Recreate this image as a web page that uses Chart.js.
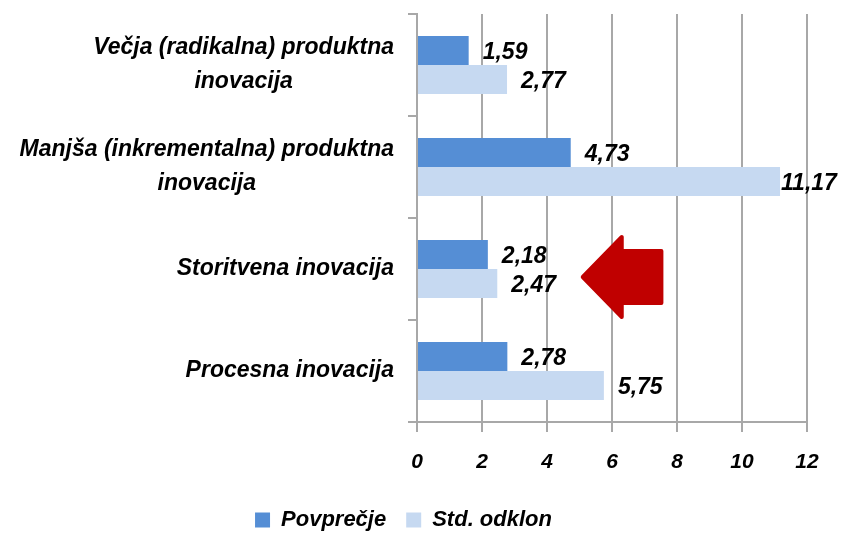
<!DOCTYPE html>
<html>
<head>
<meta charset="utf-8">
<script src="https://cdn.jsdelivr.net/npm/chart.js@4"></script>
<style>
  html, body { margin: 0; padding: 0; background: #fff; }
  #wrap { width: 841px; height: 533px; }
</style>
</head>
<body>
<div id="wrap"><canvas id="chart" width="841" height="533"></canvas></div>
<script>
'use strict';

// ===== データ =====
const categories = [
    ['Večja (radikalna) produktna', 'inovacija'],
    ['Manjša (inkrementalna) produktna', 'inovacija'],
    ['Storitvena inovacija'],
    ['Procesna inovacija'],
];
const povprecje = [1.59, 4.73, 2.18, 2.78];
const stdOdklon = [2.77, 11.17, 2.47, 5.75];
const xTicks    = [0, 2, 4, 6, 8, 10, 12];
const seriesNames = ['Povprečje', 'Std. odklon'];

const FONT_FAMILY = '"Liberation Sans", Arial, sans-serif';
const GRID_COLOR  = '#a8a8a8';
const DARK  = '#558ed5';
const LIGHT = '#c6d9f1';

const fmt = v => v.toFixed(2).replace('.', ',');

// ===== カテゴリラベル（行を中央揃え、ブロックは右寄せ） =====
const categoryLabels = {
    id: 'categoryLabels',
    afterDraw(chart) {
        const { ctx } = chart;
        const yScale = chart.scales.y;
        const right = yScale.right - 23;
        const lineGap = 34;
        ctx.save();
        ctx.font = `italic bold 23px ${FONT_FAMILY}`;
        ctx.fillStyle = '#000';
        ctx.textAlign = 'center';
        ctx.textBaseline = 'middle';
        categories.forEach((lines, i) => {
            const cy = yScale.getPixelForTick(i);
            const maxW = Math.max(...lines.map(l => ctx.measureText(l).width));
            const cx = right - maxW / 2;
            lines.forEach((line, j) => {
                ctx.fillText(line, cx, cy + (j - (lines.length - 1) / 2) * lineGap);
            });
        });
        ctx.restore();
    },
};

// ===== 値ラベル =====
const valueLabels = {
    id: 'valueLabels',
    afterDatasetsDraw(chart) {
        const { ctx } = chart;
        ctx.save();
        ctx.font = `italic bold 23px ${FONT_FAMILY}`;
        ctx.fillStyle = '#000';
        ctx.textAlign = 'left';
        ctx.textBaseline = 'middle';
        chart.data.datasets.forEach((ds, di) => {
            chart.getDatasetMeta(di).data.forEach((bar, i) => {
                const text = fmt(ds.data[i]);
                const w = ctx.measureText(text).width;
                let x = bar.x + 14;
                if (x + w > chart.width - 2) x = bar.x + 1;
                ctx.fillText(text, x, bar.y + 2);
            });
        });
        ctx.restore();
    },
};

// ===== 赤い矢印 =====
const redArrow = {
    id: 'redArrow',
    afterDatasetsDraw(chart) {
        const { ctx } = chart;
        const xs = chart.scales.x;
        const ys = chart.scales.y;
        const tipX  = xs.getPixelForValue(5.1);
        const neckX = xs.getPixelForValue(6.3);
        const tailX = xs.getPixelForValue(7.52);
        const cy = ys.getPixelForValue(2) + 8;
        const head = 40, shaft = 26;
        ctx.save();
        ctx.fillStyle = '#c00000';
        ctx.strokeStyle = '#c00000';
        ctx.lineWidth = 4;
        ctx.lineJoin = 'round';
        ctx.beginPath();
        ctx.moveTo(tipX, cy);
        ctx.lineTo(neckX, cy - head);
        ctx.lineTo(neckX, cy - shaft);
        ctx.lineTo(tailX, cy - shaft);
        ctx.lineTo(tailX, cy + shaft);
        ctx.lineTo(neckX, cy + shaft);
        ctx.lineTo(neckX, cy + head);
        ctx.closePath();
        ctx.fill();
        ctx.stroke();
        ctx.restore();
    },
};

new Chart(document.getElementById('chart').getContext('2d'), {
    type: 'bar',
    data: {
        labels: categories.map(c => c.join(' ')),
        datasets: [
            {
                label: seriesNames[0],
                data: povprecje,
                backgroundColor: DARK,
                categoryPercentage: 0.57,
                barPercentage: 1.0,
            },
            {
                label: seriesNames[1],
                data: stdOdklon,
                backgroundColor: LIGHT,
                categoryPercentage: 0.57,
                barPercentage: 1.0,
            },
        ],
    },
    options: {
        indexAxis: 'y',
        responsive: false,
        animation: false,
        layout: { padding: { top: 14, right: 34, left: 0, bottom: -8 } },
        plugins: {
            legend: {
                position: 'bottom',
                labels: {
                    color: '#000',
                    font: { family: FONT_FAMILY, size: 22, style: 'italic', weight: 'bold' },
                    boxWidth: 15,
                    boxHeight: 15,
                    padding: 20,
                },
            },
            tooltip: { enabled: false },
        },
        scales: {
            x: {
                min: 0,
                max: 12,
                afterBuildTicks: scale => {
                    scale.ticks = xTicks.map(v => ({ value: v }));
                },
                afterFit: scale => { scale.height = 67; },
                grid: {
                    color: GRID_COLOR,
                    lineWidth: 2,
                    tickLength: 10,
                },
                border: { color: GRID_COLOR, width: 2 },
                ticks: {
                    color: '#000',
                    padding: 18,
                    font: { family: FONT_FAMILY, size: 21, style: 'italic', weight: 'bold' },
                },
            },
            y: {
                afterFit: scale => { scale.width = 417; },
                grid: {
                    display: true,
                    drawOnChartArea: false,
                    drawTicks: true,
                    tickLength: 9,
                    color: GRID_COLOR,
                    lineWidth: 2,
                    offset: true,
                },
                border: { color: GRID_COLOR, width: 2 },
                ticks: { display: false },
            },
        },
    },
    plugins: [categoryLabels, valueLabels, redArrow],
});
</script>
</body>
</html>
